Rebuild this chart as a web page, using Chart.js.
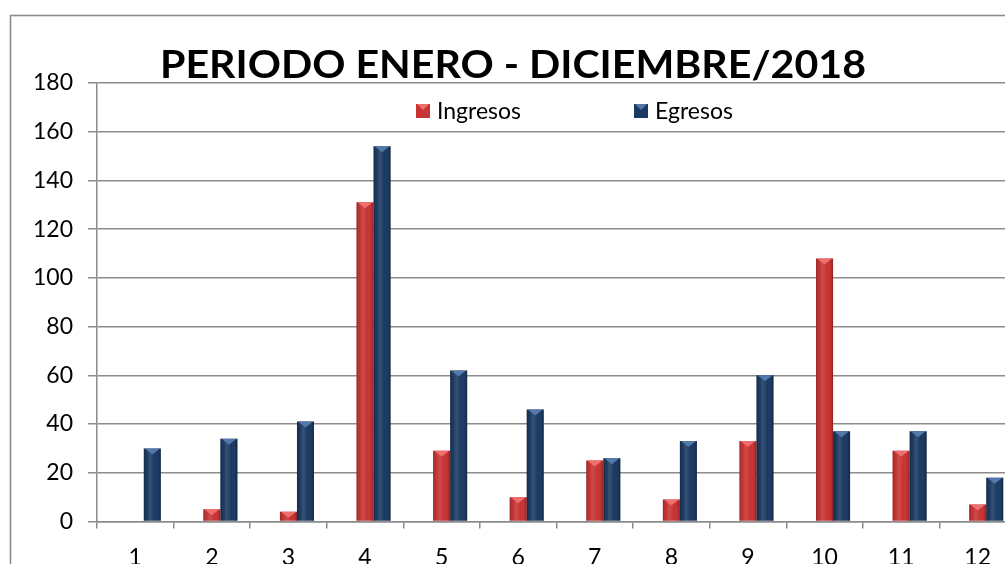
<!DOCTYPE html>
<html><head><meta charset="utf-8">
<script src="https://cdn.jsdelivr.net/npm/chart.js@4.4.1/dist/chart.umd.min.js"></script>
<style>
html,body{margin:0;padding:0;background:#fff;overflow:hidden;width:1005px;height:564px}
canvas{position:absolute;left:0;top:0}
</style>
</head><body>
<canvas id="c" width="1040" height="600"></canvas>
<script>
const TITLE = 'PERIODO ENERO - DICIEMBRE/2018';
const categories = ['1','2','3','4','5','6','7','8','9','10','11','12'];
const seriesNames = ['Ingresos', 'Egresos'];
const ingresos = [0, 5, 4, 131, 29, 10, 25, 9, 33, 108, 29, 7];
const egresos = [30, 34, 41, 154, 62, 46, 26, 33, 60, 37, 37, 18];
const yMin = 0, yMax = 180, yStep = 20;
const spacer = categories.map(() => null);

const RED = '#c83333', RED_TOP = '#ef6f6f';
const BLUE = '#1b3a62', BLUE_TOP = '#5379ab';
const GRID = '#8c8c8c';
const FONT = 'Lato';

const decor = {
  id: 'decor',
  beforeDraw(chart) {
    const ctx = chart.ctx;
    ctx.save();
    ctx.fillStyle = '#fff';
    ctx.fillRect(0, 0, chart.width, chart.height);
    ctx.strokeStyle = GRID;
    ctx.lineWidth = 1.6;
    ctx.strokeRect(10.5, 15.5, 2000, 2000);
    ctx.restore();
  },
  afterDatasetsDraw(chart) {
    const ctx = chart.ctx;
    chart.data.datasets.forEach((ds, i) => {
      if (!ds.bevel) return;
      const meta = chart.getDatasetMeta(i);
      meta.data.forEach(el => {
        const {x, y, base, width} = el.getProps(['x', 'y', 'base', 'width'], true);
        const h = base - y;
        if (!(h >= 1)) return;
        const l = x - width / 2, r = x + width / 2;
        ctx.save();
        const g = ctx.createLinearGradient(l, 0, r, 0);
        g.addColorStop(0, 'rgba(0,0,0,0.28)');
        g.addColorStop(0.12, 'rgba(0,0,0,0.04)');
        g.addColorStop(0.35, 'rgba(255,255,255,0.12)');
        g.addColorStop(0.65, 'rgba(255,255,255,0.0)');
        g.addColorStop(0.88, 'rgba(0,0,0,0.06)');
        g.addColorStop(1, 'rgba(0,0,0,0.32)');
        ctx.fillStyle = g;
        ctx.fillRect(l, y, width, h);
        const th = Math.min(6, h);
        ctx.fillStyle = ds.bevel;
        ctx.beginPath();
        ctx.moveTo(l + 1, y);
        ctx.lineTo(r - 1, y);
        ctx.lineTo(x, y + th);
        ctx.closePath();
        ctx.fill();
        ctx.restore();
      });
    });
  },
  afterDraw(chart) {
    const ctx = chart.ctx;
    ctx.save();
    // title
    ctx.font = 'bold 38px ' + FONT;
    ctx.fillStyle = '#000';
    ctx.textAlign = 'center';
    ctx.textBaseline = 'alphabetic';
    const w = ctx.measureText(TITLE).width;
    ctx.translate(513, 78);
    ctx.scale(706 / w, 1);
    ctx.fillText(TITLE, 0, 0);
    ctx.restore();
    // legend
    ctx.save();
    ctx.font = '23px ' + FONT;
    ctx.textBaseline = 'middle';
    ctx.textAlign = 'left';
    const items = chart.data.datasets.filter(d => d.label);
    const xs = [416, 634];
    items.forEach((d, k) => {
      const bx = xs[k], by = 104, s = 14;
      ctx.fillStyle = d.backgroundColor;
      ctx.fillRect(bx, by, s, s);
      ctx.fillStyle = d.bevel;
      ctx.beginPath();
      ctx.moveTo(bx + 1, by); ctx.lineTo(bx + s - 1, by); ctx.lineTo(bx + s / 2, by + 6); ctx.closePath();
      ctx.fill();
      ctx.fillStyle = '#000';
      ctx.fillText(d.label, bx + s + 7, by + s / 2 + 1);
    });
    ctx.restore();
  }
};

new Chart(document.getElementById('c'), {
  type: 'bar',
  data: {
    labels: categories,
    datasets: [
      { label: '', data: spacer, backgroundColor: 'rgba(0,0,0,0)' },
      { label: seriesNames[0], data: ingresos, backgroundColor: RED, bevel: RED_TOP },
      { label: seriesNames[1], data: egresos, backgroundColor: BLUE, bevel: BLUE_TOP }
    ]
  },
  options: {
    responsive: false,
    maintainAspectRatio: false,
    animation: false,
    devicePixelRatio: 1,
    categoryPercentage: 0.667,
    barPercentage: 1,
    layout: { padding: { left: 0, top: 83, right: 24, bottom: 28.5 } },
    plugins: { legend: { display: false }, title: { display: false }, tooltip: { enabled: false } },
    scales: {
      x: {
        grid: { display: true, offset: true, drawOnChartArea: false, drawTicks: true, tickLength: 7, color: GRID, lineWidth: 1.5 },
        border: { display: true, color: GRID, width: 1.5 },
        ticks: { color: '#000', font: { family: FONT, size: 23 }, padding: 15, maxRotation: 0, autoSkip: false },
        afterFit(s) { s.height = 50; }
      },
      y: {
        min: yMin, max: yMax,
        grid: { color: GRID, lineWidth: 1.5, tickLength: 9, drawTicks: true },
        border: { display: true, color: GRID, width: 1.5 },
        ticks: { stepSize: yStep, color: '#000', font: { family: FONT, size: 23 }, padding: 15 },
        afterFit(s) { s.width = 97; }
      }
    }
  },
  plugins: [decor]
});
</script>
</body></html>
